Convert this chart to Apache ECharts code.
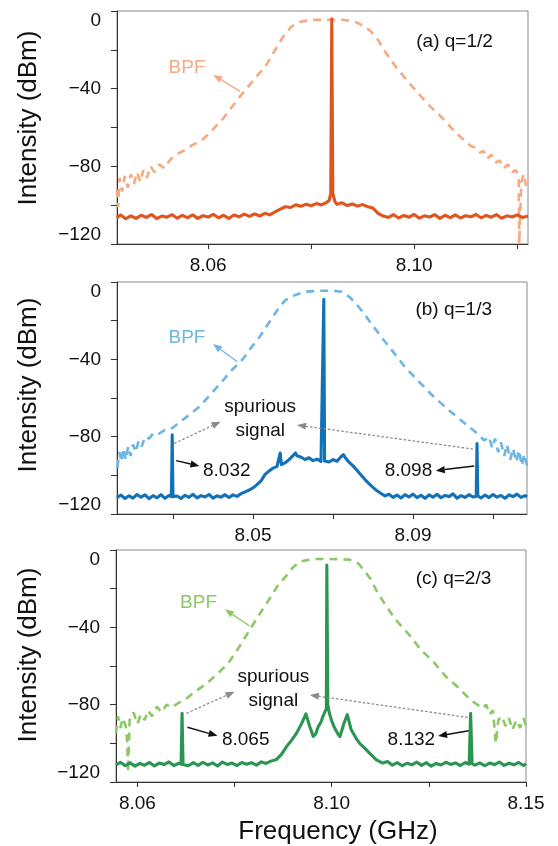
<!DOCTYPE html>
<html><head><meta charset="utf-8">
<script src="https://cdn.jsdelivr.net/npm/echarts@6/dist/echarts.min.js"></script>
<style>html,body{margin:0;padding:0;background:#fff}#c{width:558px;height:846px}</style>
</head><body><div id="c"></div>
<script>
// ---------- DATA ----------
const yTickValues = [0, -20, -40, -60, -80, -100, -120];
const yLabelValues = [0, -40, -80, -120];

const xTicksA = [8.06, 8.08, 8.10, 8.12];
const xLabelsA = [8.06, 8.10];
const xLabelTextA = ['8.06', '8.10'];
const xTicksB = [8.03, 8.05, 8.07, 8.09, 8.11];
const xLabelsB = [8.05, 8.09];
const xLabelTextB = ['8.05', '8.09'];
const xTicksC = [8.06, 8.08, 8.10, 8.12, 8.14];
const xLabelsC = [8.06, 8.10, 8.14];
const xLabelTextC = ['8.06', '8.10', '8.15'];

const sigA = [
[8.0423,-106.5],[8.043,-105],[8.044,-107],[8.045,-105.5],[8.046,-106.8],[8.047,-105.2],[8.048,-106.3],[8.049,-104.8],[8.050,-106.9],[8.051,-105.6],[8.052,-106.2],[8.053,-104.9],[8.054,-106.7],[8.055,-105.3],[8.056,-106.4],[8.057,-105.0],[8.058,-106.8],[8.059,-105.4],[8.060,-106.1],[8.061,-104.7],[8.062,-106.5],[8.063,-105.2],[8.064,-106.9],[8.065,-105.1],[8.066,-106.0],[8.067,-104.6],[8.068,-105.8],[8.069,-104.5],[8.070,-105.6],[8.071,-104.2],[8.072,-105.0],[8.073,-103.4],[8.074,-102.0],[8.075,-100.8],[8.076,-101.2],[8.077,-99.8],[8.078,-100.6],[8.079,-99.5],[8.080,-100.3],[8.081,-99.2],[8.082,-99.9],[8.083,-98.6],[8.0835,-97.5],[8.0838,-94],[8.0840,-4],[8.0842,-94],[8.0846,-98],[8.085,-99.6],[8.086,-98.8],[8.087,-100.2],[8.088,-99.4],[8.089,-100.5],[8.090,-99.7],[8.091,-100.8],[8.092,-101.5],[8.093,-104.2],[8.094,-105.6],[8.095,-106.3],[8.096,-104.9],[8.097,-106.6],[8.098,-105.3],[8.099,-106.2],[8.100,-104.8],[8.101,-106.7],[8.102,-105.5],[8.103,-106.1],[8.104,-104.9],[8.105,-106.8],[8.106,-105.2],[8.107,-106.4],[8.108,-105.0],[8.109,-106.6],[8.110,-105.4],[8.111,-106.0],[8.112,-104.8],[8.113,-106.5],[8.114,-105.3],[8.115,-106.2],[8.116,-104.9],[8.117,-106.7],[8.118,-105.5],[8.119,-106.1],[8.120,-105.0],[8.121,-106.3],[8.1221,-105.6]
];
const bpfA = [
[8.0423,-92],[8.0425,-101],[8.0428,-86],[8.0433,-93],[8.0438,-85],[8.0444,-91],[8.0450,-84],[8.0456,-89],[8.0462,-83],[8.0468,-88],[8.0474,-82],[8.0481,-86],[8.0488,-80],[8.0496,-83],[8.0505,-79],[8.0515,-81],[8.0525,-77],[8.0537,-74],[8.0552,-72],[8.0570,-69],[8.0590,-66],[8.0606,-62],[8.0630,-55],[8.0662,-44],[8.0690,-35],[8.0711,-28.6],[8.0728,-21],[8.0746,-13],[8.0762,-8],[8.0780,-5.5],[8.0800,-4.6],[8.0830,-4.5],[8.0860,-4.5],[8.0885,-5.5],[8.0900,-7.5],[8.0914,-10],[8.0930,-15],[8.0941,-20],[8.0965,-29],[8.0990,-37],[8.1025,-47.5],[8.1060,-56.5],[8.1080,-62.5],[8.1095,-66],[8.1110,-69.5],[8.1120,-70.5],[8.1128,-73],[8.1135,-72],[8.1142,-76],[8.1150,-74],[8.1158,-78],[8.1166,-77],[8.1174,-81],[8.1182,-79],[8.1190,-83],[8.1198,-82],[8.1203,-87],[8.1204,-120],[8.1206,-120],[8.1208,-88],[8.1213,-84],[8.1217,-90],[8.1221,-86]
];

const sigB = [
[8.016,-111.5],[8.017,-110.2],[8.018,-112.0],[8.019,-110.6],[8.020,-111.8],[8.021,-109.9],[8.022,-111.3],[8.023,-110.1],[8.024,-112.1],[8.025,-110.5],[8.026,-111.6],[8.027,-110.0],[8.028,-111.9],[8.029,-110.4],[8.0296,-111],[8.0298,-79],[8.0300,-111],[8.031,-110.7],[8.032,-112.0],[8.033,-110.3],[8.034,-111.4],[8.035,-109.8],[8.036,-111.7],[8.037,-110.5],[8.038,-111.2],[8.039,-109.9],[8.040,-111.8],[8.041,-110.6],[8.042,-111.3],[8.043,-110.0],[8.044,-111.5],[8.045,-110.1],[8.046,-110.9],[8.047,-109.5],[8.048,-108.6],[8.049,-107.6],[8.050,-106.5],[8.051,-104.8],[8.052,-102.9],[8.053,-99.5],[8.054,-97.8],[8.055,-96.3],[8.056,-95.4],[8.0565,-94.8],[8.0568,-88.5],[8.0571,-94.5],[8.058,-93.6],[8.059,-91.9],[8.060,-89.8],[8.0606,-88.4],[8.061,-89.9],[8.062,-90.6],[8.063,-91.8],[8.064,-90.9],[8.065,-92.4],[8.066,-91.6],[8.067,-92.8],[8.0675,-92.5],[8.0677,-9],[8.0679,-92.6],[8.068,-92.2],[8.069,-93.1],[8.070,-91.9],[8.071,-92.7],[8.072,-90.4],[8.0726,-89.3],[8.073,-90.6],[8.074,-93.2],[8.075,-95.1],[8.076,-97.4],[8.077,-99.8],[8.078,-102.2],[8.079,-104.3],[8.080,-106.2],[8.081,-108.0],[8.082,-109.4],[8.083,-110.6],[8.084,-109.8],[8.085,-111.4],[8.086,-110.2],[8.087,-111.7],[8.088,-110.0],[8.089,-111.2],[8.090,-109.7],[8.091,-111.5],[8.092,-110.3],[8.093,-111.9],[8.094,-110.1],[8.095,-111.3],[8.096,-109.8],[8.097,-111.6],[8.098,-110.4],[8.099,-111.0],[8.100,-109.6],[8.101,-111.8],[8.102,-110.5],[8.103,-111.4],[8.104,-110.0],[8.105,-111.2],[8.1058,-110.8],[8.1060,-83.6],[8.1062,-110.6],[8.107,-111.7],[8.108,-110.2],[8.109,-111.5],[8.110,-109.9],[8.111,-111.3],[8.112,-110.4],[8.113,-111.9],[8.114,-110.1],[8.115,-111.0],[8.116,-109.7],[8.117,-111.4],[8.118,-110.5],[8.1185,-111.1]
];
const bpfB = [
[8.0161,-96],[8.0166,-88],[8.0171,-93],[8.0176,-86],[8.0182,-92],[8.0188,-85],[8.0194,-90],[8.0200,-84],[8.0207,-88],[8.0214,-82],[8.0222,-85],[8.0230,-80],[8.0240,-81],[8.0252,-78],[8.0265,-78.5],[8.0280,-76.5],[8.0295,-76],[8.0320,-72],[8.0345,-68],[8.0366,-64.5],[8.0390,-59],[8.0419,-52.4],[8.0445,-46],[8.0473,-40.3],[8.0495,-34],[8.0517,-28.3],[8.0540,-21],[8.0561,-14.5],[8.0580,-9.5],[8.0606,-6.7],[8.0630,-5],[8.0668,-4.5],[8.0700,-4.5],[8.0721,-5],[8.0740,-7.5],[8.0757,-11],[8.0780,-17],[8.0801,-23],[8.0823,-29],[8.0846,-35],[8.0880,-44],[8.0917,-52],[8.0950,-59],[8.0988,-66],[8.1020,-71.5],[8.1050,-76.6],[8.1065,-79],[8.1078,-82],[8.1090,-80],[8.1098,-86],[8.1105,-81],[8.1113,-88],[8.1120,-83],[8.1128,-90],[8.1135,-84],[8.1143,-92],[8.1150,-86],[8.1158,-93],[8.1165,-87],[8.1172,-95],[8.1178,-89],[8.1185,-95]
];

const sigC = [
[8.0556,-111.2],[8.0565,-109.8],[8.0575,-111.6],[8.0585,-110.1],[8.0595,-111.8],[8.0605,-110.4],[8.0615,-111.3],[8.0625,-109.9],[8.0635,-111.7],[8.0645,-110.2],[8.0655,-111.0],[8.0665,-109.6],[8.0675,-111.5],[8.0685,-110.3],[8.0690,-110.8],[8.0692,-84.5],[8.0694,-110.9],[8.0705,-111.6],[8.0715,-110.0],[8.0725,-111.4],[8.0735,-109.8],[8.0745,-111.2],[8.0755,-110.1],[8.0765,-111.7],[8.0775,-109.7],[8.0785,-110.9],[8.0795,-110.2],[8.0805,-111.5],[8.0815,-109.9],[8.0825,-110.8],[8.0835,-110.0],[8.0845,-111.3],[8.0855,-109.6],[8.0865,-110.4],[8.0875,-109.2],[8.0886,-108.4],[8.0897,-105.6],[8.0907,-101.7],[8.0918,-98.2],[8.0928,-94.6],[8.0938,-89.8],[8.0947,-84.8],[8.0955,-91.4],[8.0962,-96.4],[8.0967,-95.2],[8.0972,-91.6],[8.0978,-89.0],[8.0982,-86.0],[8.0986,-85.5],[8.0989,-82],[8.0990,-7.8],[8.0992,-80],[8.0995,-84.2],[8.1000,-88.4],[8.1005,-91.5],[8.1012,-94.8],[8.1017,-96.5],[8.1025,-89.9],[8.1032,-85.2],[8.1040,-92.8],[8.1050,-97.3],[8.1058,-100.2],[8.1068,-102.5],[8.1078,-105.1],[8.1092,-108.5],[8.1105,-110.2],[8.1115,-109.4],[8.1125,-111.3],[8.1135,-110.0],[8.1145,-111.6],[8.1155,-110.3],[8.1165,-111.1],[8.1175,-109.7],[8.1185,-111.4],[8.1195,-110.0],[8.1205,-111.8],[8.1215,-110.4],[8.1225,-111.2],[8.1235,-109.8],[8.1245,-110.9],[8.1255,-110.1],[8.1265,-111.5],[8.1275,-109.9],[8.1283,-110.8],[8.1286,-84.5],[8.1289,-110.6],[8.1295,-111.3],[8.1305,-110.1],[8.1315,-111.6],[8.1325,-110.2],[8.1335,-111.0],[8.1345,-109.7],[8.1355,-111.4],[8.1365,-110.3],[8.1375,-111.1],[8.1385,-109.9],[8.1395,-111.5],[8.1400,-110.6]
];
const bpfC = [
[8.0556,-95],[8.0560,-86],[8.0565,-92],[8.0570,-87],[8.0576,-91],[8.0579,-99],[8.0581,-115],[8.0584,-88],[8.0592,-84],[8.0600,-90],[8.0607,-85],[8.0615,-88],[8.0622,-83],[8.0630,-86],[8.0640,-81],[8.0650,-84],[8.0660,-80],[8.0670,-81.5],[8.0685,-79],[8.0700,-77],[8.0720,-73],[8.0743,-69],[8.0765,-64],[8.0787,-58.6],[8.0810,-50],[8.0831,-41.4],[8.0852,-33],[8.0875,-24.1],[8.0890,-18],[8.0905,-13.8],[8.0920,-9],[8.0934,-6],[8.0960,-4.7],[8.0990,-4.6],[8.1037,-5],[8.1055,-7],[8.1066,-10.3],[8.1080,-15],[8.1095,-22.4],[8.1115,-30],[8.1132,-36.2],[8.1160,-44],[8.1184,-51.7],[8.1210,-58],[8.1235,-65.5],[8.1260,-71],[8.1286,-77.6],[8.1300,-80],[8.1310,-82],[8.1318,-80],[8.1325,-85],[8.1332,-83],[8.1338,-100],[8.1343,-88],[8.1350,-86],[8.1358,-91],[8.1365,-87],[8.1372,-93],[8.1380,-88],[8.1388,-92],[8.1395,-87],[8.1400,-91]
];

// ---------- STYLE / LAYOUT ----------
const FONT = "'Liberation Sans', Arial, sans-serif";
const pal = [
  {sig: '#E0541E', bpf: '#F5AA82'},
  {sig: '#1172B7', bpf: '#6DB5E3'},
  {sig: '#2B9552', bpf: '#8DC868'}
];
const grids = [
  {left: 117, top: 11, width: 411, height: 233},
  {left: 117, top: 282, width: 410, height: 232},
  {left: 116, top: 550, width: 410, height: 232}
];
const xRanges = [[8.0423, 8.1221], [8.016, 8.1185], [8.0556, 8.14]];
const xTicks = [xTicksA, xTicksB, xTicksC];
const xLabels = [xLabelsA, xLabelsB, xLabelsC];
const xLabelTexts = [xLabelTextA, xLabelTextB, xLabelTextC];
const sigs = [sigA, sigB, sigC];
const bpfs = [bpfA, bpfB, bpfC];

const chart = echarts.init(document.getElementById('c'), null, {renderer: 'canvas'});

const option = {
  animation: false,
  backgroundColor: '#fff',
  grid: grids.map(g => Object.assign({show: true, borderColor: '#8a8a8a', borderWidth: 1, containLabel: false}, g)),
  xAxis: grids.map((g, i) => ({
    type: 'value', gridIndex: i, min: xRanges[i][0], max: xRanges[i][1],
    axisLine: {show: true, onZero: false, lineStyle: {color: '#333', width: 1}},
    axisTick: {show: true, customValues: xTicks[i], length: 5, lineStyle: {color: '#333'}},
    axisLabel: {
      customValues: xLabels[i], fontSize: 19, color: '#111', fontFamily: FONT, margin: 12,
      formatter: v => { const k = xLabels[i].findIndex(l => Math.abs(l - v) < 1e-6); return k >= 0 ? xLabelTexts[i][k] : ''; }
    },
    splitLine: {show: false}
  })),
  yAxis: grids.map((g, i) => ({
    type: 'value', gridIndex: i, min: -120, max: 0,
    axisLine: {show: true, onZero: false, lineStyle: {color: '#333', width: 1}},
    axisTick: {show: true, customValues: yTickValues, length: 6, lineStyle: {color: '#333'}},
    axisLabel: {
      customValues: yLabelValues, fontSize: 19, color: '#111', fontFamily: FONT, margin: 16,
      verticalAlignMaxLabel: 'bottom', verticalAlignMinLabel: 'top',
      formatter: v => v === 0 ? '0' : '\u2212' + Math.abs(v)
    },
    splitLine: {show: false}
  })),
  series: []
};
for (let i = 0; i < 3; i++) {
  option.series.push({
    type: 'line', xAxisIndex: i, yAxisIndex: i, data: bpfs[i], symbol: 'none', silent: true,
    lineStyle: {color: pal[i].bpf, width: 2.6, type: [8, 6]}, z: 2
  });
  option.series.push({
    type: 'line', xAxisIndex: i, yAxisIndex: i, data: sigs[i], symbol: 'none', silent: true,
    lineStyle: {color: pal[i].sig, width: 3.1, join: 'round'}, z: 3
  });
}
chart.setOption(option);

// ---------- ANNOTATIONS (anchored in data coordinates) ----------
const ann = [
  {texts: [
     {t: '(a) q=1/2', at: [8.1004, -15.7], align: 'left', color: '#111'},
     {t: 'BPF', at: [8.0559, -29.4], align: 'center', color: pal[0].bpf}],
   arrows: [{from: [8.0662, -41.4], to: [8.0610, -32.9], color: pal[0].bpf, w: 1.3}]},
  {texts: [
     {t: '(b) q=1/3', at: [8.0906, -14.5], align: 'left', color: '#111'},
     {t: 'BPF', at: [8.0335, -29.1], align: 'center', color: pal[1].bpf},
     {t: 'spurious', at: [8.0518, -64.5], align: 'center', color: '#111'},
     {t: 'signal', at: [8.0518, -76.9], align: 'center', color: '#111'},
     {t: '8.032', at: [8.0375, -97.8], align: 'left', color: '#111'},
     {t: '8.098', at: [8.0948, -97.8], align: 'right', color: '#111'}],
   arrows: [
     {from: [8.0461, -41.2], to: [8.0400, -32.1], color: pal[1].bpf, w: 1.3},
     {from: [8.0303, -83.5], to: [8.0419, -72.3], color: '#8a8a8a', w: 1.3, dash: [2.5, 2]},
     {from: [8.1050, -86.4], to: [8.0610, -74.0], color: '#8a8a8a', w: 1.3, dash: [2.5, 2]},
     {from: [8.0308, -92.4], to: [8.0366, -95.2], color: '#111', w: 1.5},
     {from: [8.1053, -95.2], to: [8.0957, -97.6], color: '#111', w: 1.5}]},
  {texts: [
     {t: '(c) q=2/3', at: [8.1173, -14.7], align: 'left', color: '#111'},
     {t: 'BPF', at: [8.0726, -27.2], align: 'center', color: pal[2].bpf},
     {t: 'spurious', at: [8.0880, -65.5], align: 'center', color: '#111'},
     {t: 'signal', at: [8.0880, -78.1], align: 'center', color: '#111'},
     {t: '8.065', at: [8.0774, -97.9], align: 'left', color: '#111'},
     {t: '8.132', at: [8.1213, -97.9], align: 'right', color: '#111'}],
   arrows: [
     {from: [8.0831, -39.3], to: [8.0780, -30.7], color: pal[2].bpf, w: 1.3},
     {from: [8.0701, -84.5], to: [8.0800, -73.3], color: '#8a8a8a', w: 1.3, dash: [2.5, 2]},
     {from: [8.1280, -86.6], to: [8.0955, -75.0], color: '#8a8a8a', w: 1.3, dash: [2.5, 2]},
     {from: [8.0703, -91.7], to: [8.0765, -96.1], color: '#111', w: 1.5},
     {from: [8.1282, -93.5], to: [8.1219, -96.2], color: '#111', w: 1.5}]}
];

function arrowEls(p1, p2, color, width, dash) {
  const dx = p2[0] - p1[0], dy = p2[1] - p1[1], L = Math.hypot(dx, dy);
  const ux = dx / L, uy = dy / L, hl = 9, hw = 3.6;
  const bx = p2[0] - ux * hl, by = p2[1] - uy * hl;
  return [
    {type: 'line', z: 100, silent: true, shape: {x1: p1[0], y1: p1[1], x2: bx, y2: by},
     style: {stroke: color, lineWidth: width, lineDash: dash || null}},
    {type: 'polygon', z: 100, silent: true,
     shape: {points: [[p2[0], p2[1]], [bx - uy * hw, by + ux * hw], [bx + uy * hw, by - ux * hw]]},
     style: {fill: color}}
  ];
}

const els = [];
ann.forEach((a, gi) => {
  a.texts.forEach(tx => {
    const p = chart.convertToPixel({gridIndex: gi}, tx.at);
    els.push({type: 'text', z: 100, silent: true, x: p[0], y: p[1],
      style: {text: tx.t, fill: tx.color, font: '19px ' + FONT, align: tx.align, textAlign: tx.align,
              verticalAlign: 'middle', textVerticalAlign: 'middle'}});
  });
  a.arrows.forEach(ar => {
    const p1 = chart.convertToPixel({gridIndex: gi}, ar.from);
    const p2 = chart.convertToPixel({gridIndex: gi}, ar.to);
    arrowEls(p1, p2, ar.color, ar.w, ar.dash).forEach(e => els.push(e));
  });
});
// axis titles
[118, 385, 655].forEach(cy => {
  els.push({type: 'text', z: 100, silent: true, x: 29, y: cy, rotation: Math.PI / 2,
    style: {text: 'Intensity (dBm)', fill: '#111', font: '26px ' + FONT, align: 'center', textAlign: 'center',
            verticalAlign: 'middle', textVerticalAlign: 'middle'}});
});
els.push({type: 'text', z: 100, silent: true, x: 338, y: 832,
  style: {text: 'Frequency (GHz)', fill: '#111', font: '26px ' + FONT, align: 'center', textAlign: 'center',
          verticalAlign: 'middle', textVerticalAlign: 'middle'}});

chart.setOption({graphic: {elements: els}});
</script></body></html>
